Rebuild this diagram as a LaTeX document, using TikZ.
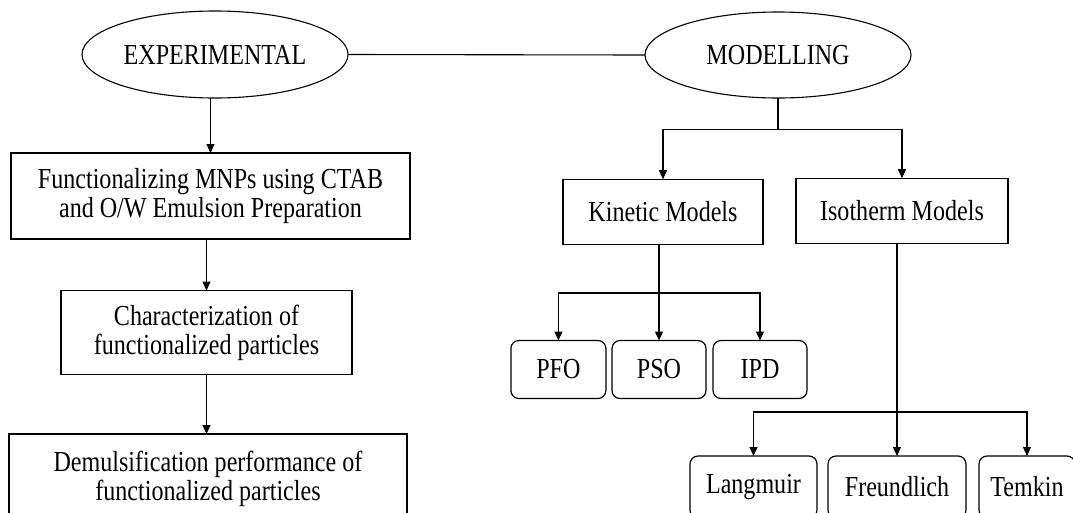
\documentclass[tikz,border=0pt]{standalone}
\usepackage{fontspec}
\setmainfont[FakeStretch=0.83]{Liberation Serif}
\usetikzlibrary{shapes.geometric,arrows.meta}
\tikzset{
  every node/.style={font=\fontsize{29}{29}\selectfont, inner sep=0pt, outer sep=0pt, align=center},
  oval/.style={draw, ellipse, line width=1.1pt},
  sqbox/.style={draw, rectangle, line width=1.2pt},
  rbox/.style={draw, rectangle, rounded corners=8pt, line width=1.2pt},
  ln/.style={line width=1.1pt},
  arr/.style={line width=1.1pt, -{Triangle[length=9pt,width=8pt]}}
}
\begin{document}
\begin{tikzpicture}[x=1pt,y=-1pt]
\useasboundingbox (0,0) rectangle (1073,512);
\clip (0,0) rectangle (1073,512);
\node[oval, minimum width=266pt, minimum height=87pt] (exp) at (215,54.5) {EXPERIMENTAL};
\node[oval, minimum width=266pt, minimum height=86pt] (mod) at (778,55) {MODELLING};
\node[sqbox, minimum width=399pt, minimum height=86pt] (b1) at (210.5,196) {Functionalizing MNPs using CTAB\\and O/W Emulsion Preparation};
\node[sqbox, minimum width=291pt, minimum height=84pt] (b2) at (206.5,332.5) {Characterization of\\functionalized particles};
\node[sqbox, minimum width=398pt, minimum height=89pt] (b3) at (208,478.5) {Demulsification performance of\\functionalized particles};
\node[sqbox, minimum width=200pt, minimum height=65pt] (kin) at (663,211.7) {Kinetic Models};
\node[sqbox, minimum width=212pt, minimum height=65pt] (iso) at (902,210.7) {Isotherm Models};
\node[rbox, minimum width=95pt, minimum height=58pt] (pfo) at (558.4,369.5) {PFO};
\node[rbox, minimum width=94pt, minimum height=58pt] (pso) at (659,369.5) {PSO};
\node[rbox, minimum width=94pt, minimum height=58pt] (ipd) at (760,369.5) {IPD};
\node[rbox, minimum width=127pt, minimum height=62pt] (lang) at (753.5,487) {Langmuir};
\node[rbox, minimum width=138pt, minimum height=62pt] (freu) at (897,487) {Freundlich};
\node[rbox, minimum width=96pt, minimum height=62pt] (tem) at (1027,487) {Temkin};
% connectors
\draw[ln] (exp.east) -- (mod.west);
\draw[arr] (b1.north |- exp.south) -- (b1.north);
\draw[arr] (b2.north |- b1.south) -- (b2.north);
\draw[arr] (b2.south) -- (b2.south |- b3.north);
\coordinate (j1) at (778,129.3);
\draw[ln] (mod.south) -- (j1);
\draw[arr] (j1) -| (kin.north);
\draw[arr] (j1) -| (iso.north);
\coordinate (j2) at (659,293);
\draw[arr] (pso.north |- kin.south) -- (pso.north);
\draw[arr] (j2) -| (pfo.north);
\draw[arr] (j2) -| (ipd.north);
\coordinate (j3) at (897,412);
\draw[arr] (freu.north |- iso.south) -- (freu.north);
\draw[arr] (j3) -| (lang.north);
\draw[arr] (j3) -| (tem.north);
\end{tikzpicture}
\end{document}
